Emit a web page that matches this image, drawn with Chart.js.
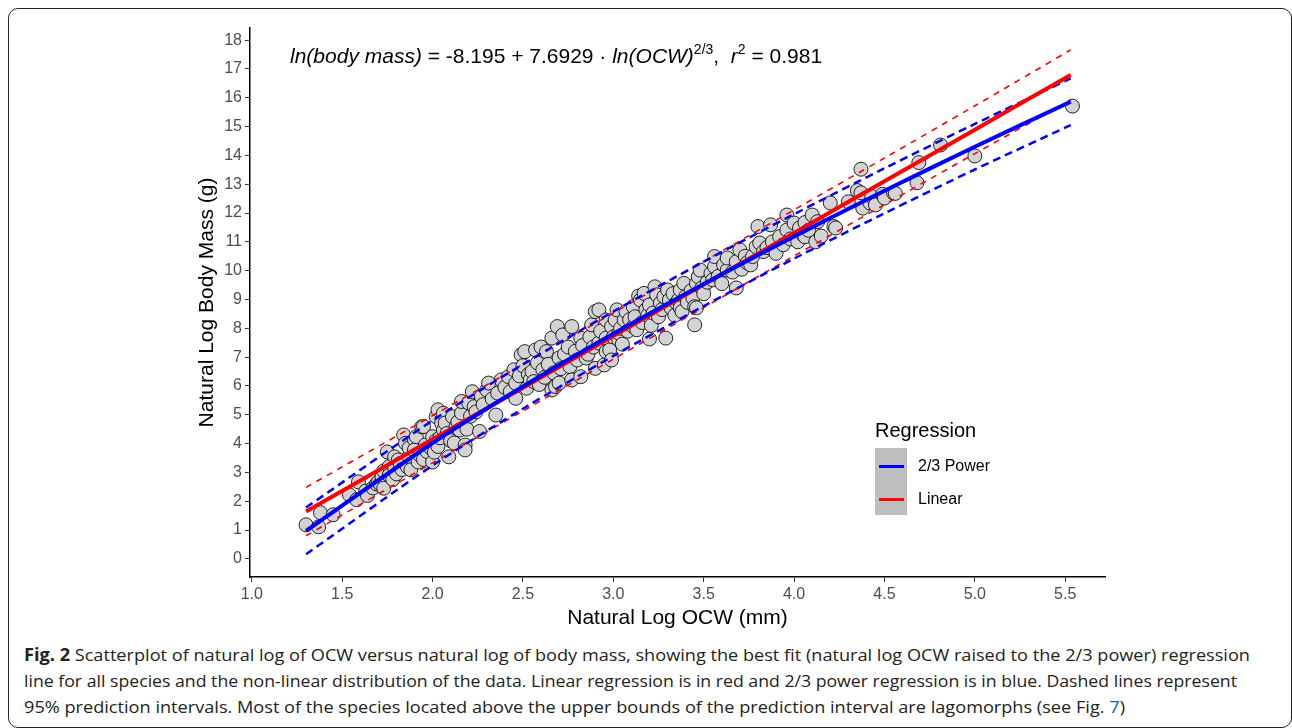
<!DOCTYPE html>
<html>
<head>
<meta charset="utf-8">
<script src="https://cdn.jsdelivr.net/npm/chart.js@4.4.1/dist/chart.umd.min.js"></script>
<style>
  body { margin: 0; background: #fff; }
  #wrap { position: relative; width: 1292px; height: 728px; overflow: hidden; font-family: "Liberation Sans", Arial, sans-serif; }
  #frame { position: absolute; left: 8px; top: 8px; width: 1284px; height: 720px; box-sizing: border-box;
           border: 1.5px solid #222; border-radius: 10px; }
  #plot { position: absolute; left: 0; top: 0; }
  #eq { position: absolute; left: 290px; top: 44px; font-size: 21px; color: #000; white-space: nowrap; }
  #eq i { font-style: italic; }
  #eq sup { font-size: 14px; vertical-align: 9px; line-height: 0; }
  #legend { position: absolute; left: 875px; top: 416px; color: #000; }
  #legend .ttl { font-size: 20px; line-height: 28px; }
  #legend .key { position: absolute; left: 0; top: 32px; width: 32px; height: 67px; background: #bebebe; }
  #legend .sw { position: absolute; left: 4px; width: 25px; height: 3px; }
  #legend .lab { position: absolute; left: 43px; font-size: 16px; white-space: nowrap; }
  .cap { position: absolute; left: 24px; font-family: "Open Sans", sans-serif; font-size: 17px; color: #222;
         white-space: nowrap; transform-origin: left center; }
  .cap b { font-weight: 700; }
  .cap a { color: #2255cc; text-decoration: none; }
</style>
</head>
<body>
<div id="wrap">
  <div id="frame"></div>
  <canvas id="plot" width="1292" height="640"></canvas>
  <div id="eq"><i>ln(body mass)</i> = -8.195 + 7.6929 · <i>ln(OCW)</i><sup>2/3</sup>,&nbsp; <i>r</i><sup>2</sup> = 0.981</div>
  <div id="legend">
    <div class="ttl">Regression</div>
    <div class="key">
      <div class="sw" style="top:17px;background:#0000ff"></div>
      <div class="sw" style="top:50px;background:#ff0000"></div>
    </div>
    <div class="lab" style="top:41px">2/3 Power</div>
    <div class="lab" style="top:74px">Linear</div>
  </div>
  <div class="cap" id="cap1" style="top:643px"><b>Fig. 2</b> Scatterplot of natural log of OCW versus natural log of body mass, showing the best fit (natural log OCW raised to the 2/3 power) regression</div>
  <div class="cap" id="cap2" style="top:669px">line for all species and the non-linear distribution of the data. Linear regression is in red and 2/3 power regression is in blue. Dashed lines represent</div>
  <div class="cap" id="cap3" style="top:695px">95% prediction intervals. Most of the species located above the upper bounds of the prediction interval are lagomorphs (see Fig. <a>7</a>)</div>
</div>
<script>
// axis ticks
const xTickValues = [1.0, 1.5, 2.0, 2.5, 3.0, 3.5, 4.0, 4.5, 5.0, 5.5];
const yTickValues = [0, 1, 2, 3, 4, 5, 6, 7, 8, 9, 10, 11, 12, 13, 14, 15, 16, 17, 18];

// species: ln(OCW) and ln(body mass)
const ocwLog = [
  1.30, 1.37, 1.38, 1.45, 1.54, 1.58, 1.59, 1.63, 1.64, 1.67, 1.69, 1.70, 1.71, 1.72, 1.73, 1.73, 1.75, 1.76, 1.76, 1.78,
  1.79, 1.79, 1.80, 1.81, 1.82, 1.83, 1.84, 1.85, 1.86, 1.87, 1.87, 1.88, 1.90, 1.90, 1.91, 1.92, 1.93, 1.94, 1.95, 1.95,
  1.96, 1.97, 1.99, 2.00, 2.00, 2.01, 2.02, 2.02, 2.03, 2.03, 2.04, 2.05, 2.06, 2.06, 2.07, 2.08, 2.09, 2.10, 2.11, 2.12,
  2.13, 2.14, 2.15, 2.16, 2.16, 2.18, 2.18, 2.19, 2.20, 2.21, 2.22, 2.23, 2.24, 2.26, 2.27, 2.28, 2.30, 2.31, 2.33, 2.35,
  2.36, 2.38, 2.40, 2.42, 2.43, 2.45, 2.46, 2.46, 2.48, 2.49, 2.50, 2.51, 2.52, 2.53, 2.54, 2.55, 2.56, 2.57, 2.58, 2.59,
  2.60, 2.61, 2.62, 2.63, 2.64, 2.66, 2.66, 2.67, 2.68, 2.69, 2.70, 2.70, 2.71, 2.72, 2.73, 2.75, 2.76, 2.77, 2.77, 2.79,
  2.80, 2.82, 2.82, 2.83, 2.85, 2.86, 2.87, 2.88, 2.89, 2.90, 2.90, 2.92, 2.92, 2.93, 2.95, 2.96, 2.96, 2.96, 2.98, 2.99,
  2.99, 3.00, 3.01, 3.02, 3.03, 3.03, 3.04, 3.05, 3.06, 3.07, 3.08, 3.09, 3.11, 3.11, 3.12, 3.13, 3.14, 3.15, 3.16, 3.17,
  3.18, 3.19, 3.20, 3.20, 3.21, 3.22, 3.23, 3.24, 3.25, 3.26, 3.27, 3.28, 3.29, 3.30, 3.31, 3.32, 3.33, 3.34, 3.35, 3.36,
  3.37, 3.37, 3.38, 3.39, 3.40, 3.41, 3.43, 3.44, 3.45, 3.45, 3.46, 3.46, 3.47, 3.48, 3.49, 3.50, 3.52, 3.54, 3.55, 3.56,
  3.56, 3.58, 3.60, 3.61, 3.63, 3.63, 3.66, 3.68, 3.68, 3.70, 3.71, 3.73, 3.74, 3.76, 3.77, 3.79, 3.80, 3.81, 3.83, 3.85,
  3.87, 3.88, 3.90, 3.92, 3.94, 3.96, 3.96, 3.98, 4.00, 4.02, 4.03, 4.05, 4.06, 4.06, 4.08, 4.10, 4.12, 4.13, 4.15, 4.20,
  4.22, 4.23, 4.30, 4.35, 4.37, 4.37, 4.38, 4.42, 4.43, 4.45, 4.49, 4.50, 4.55, 4.56, 4.68, 4.69, 4.81, 5.00, 5.54
];
const massLog = [
  1.18, 1.11, 1.60, 1.53, 2.22, 2.05, 2.67, 2.35, 2.20, 2.46, 2.60, 2.67, 2.60, 2.84, 2.45, 3.05, 3.71, 3.20, 2.90, 2.75,
  3.54, 3.15, 2.95, 3.43, 3.30, 3.10, 4.30, 4.01, 3.20, 3.55, 3.85, 3.09, 4.13, 3.78, 4.24, 3.36, 3.60, 4.58, 3.45, 4.59,
  3.95, 3.72, 3.85, 3.36, 4.24, 3.70, 4.10, 4.93, 3.90, 5.17, 4.20, 4.70, 4.47, 5.05, 4.71, 4.35, 3.54, 4.10, 4.93, 4.02,
  4.59, 4.75, 4.47, 5.06, 5.46, 3.95, 3.78, 4.50, 5.41, 4.95, 5.80, 5.28, 5.10, 4.42, 5.63, 5.35, 5.86, 6.10, 5.55, 4.99,
  5.75, 6.21, 5.95, 6.32, 5.80, 6.56, 6.09, 5.57, 6.35, 7.08, 6.70, 7.19, 5.92, 6.40, 6.21, 6.50, 6.15, 7.25, 6.80, 6.05,
  7.35, 6.56, 6.30, 7.19, 6.75, 7.66, 5.86, 6.45, 5.98, 8.06, 6.97, 6.10, 6.60, 7.77, 7.10, 7.35, 6.67, 8.06, 6.21, 7.20,
  6.90, 7.66, 6.32, 7.40, 6.97, 7.10, 7.70, 8.12, 7.35, 8.58, 6.61, 7.49, 8.64, 7.90, 6.73, 7.19, 7.66, 8.29, 7.25, 6.90,
  8.06, 7.70, 8.29, 8.64, 7.60, 7.83, 8.00, 7.45, 8.29, 8.58, 7.90, 8.30, 8.75, 8.06, 8.40, 7.95, 9.12, 8.98, 8.20, 9.21,
  8.64, 8.45, 8.81, 7.63, 8.10, 8.53, 9.44, 9.16, 8.40, 8.88, 8.65, 9.10, 7.66, 9.33, 8.98, 8.70, 9.20, 8.45, 8.88, 8.98,
  9.33, 8.71, 8.58, 9.56, 9.10, 8.90, 9.30, 9.05, 8.75, 8.12, 8.71, 9.56, 9.79, 10.02, 9.40, 9.20, 9.60, 9.91, 9.68, 10.14,
  10.49, 9.80, 9.55, 10.20, 10.02, 10.44, 9.95, 10.31, 9.40, 10.72, 10.05, 10.50, 10.27, 10.20, 10.49, 10.83, 11.53, 10.96, 10.66, 10.80,
  11.59, 11.00, 10.60, 11.18, 10.90, 11.41, 11.93, 11.10, 11.65, 11.00, 11.48, 11.24, 11.67, 11.18, 11.40, 11.93, 11.00, 11.70, 11.20, 12.35,
  11.53, 11.48, 12.39, 12.78, 12.70, 13.52, 12.17, 12.35, 12.57, 12.28, 12.65, 12.52, 12.70, 12.68, 13.05, 13.75, 14.36, 13.98, 15.71
];

// fitted lines and 95% prediction intervals
const fitX = [1.30, 2.0, 2.5, 3.0, 3.5, 4.0, 4.5, 5.0, 5.53];
const powerFit = [0.97, 4.02, 5.98, 7.81, 9.54, 11.19, 12.77, 14.30, 15.86];
const powerUpper = [1.78, 4.80, 6.75, 8.58, 10.31, 11.96, 13.55, 15.09, 16.67];
const powerLower = [0.16, 3.24, 5.21, 7.04, 8.77, 10.42, 11.99, 13.51, 15.05];
const linearFit = [1.64, 4.15, 5.94, 7.73, 9.52, 11.31, 13.10, 14.89, 16.79];
const linearUpper = [2.48, 4.97, 6.75, 8.53, 10.32, 12.11, 13.91, 15.72, 17.66];
const linearLower = [0.80, 3.33, 5.13, 6.93, 8.72, 10.51, 12.29, 14.06, 15.92];

const pts = (xs, ys) => xs.map((x, i) => ({ x, y: ys[i] }));

function lineSet(label, ys, color, width, dash) {
    return {
        type: "line",
        label,
        data: pts(fitX, ys),
        borderColor: color,
        borderWidth: width,
        borderDash: dash || [],
        pointRadius: 0,
        fill: false,
        tension: 0.3,
        showLine: true,
    };
}

const tickFont = { family: "'Liberation Sans', Arial, sans-serif", size: 16 };
const titleFont = { family: "'Liberation Sans', Arial, sans-serif", size: 21 };

new Chart(document.getElementById("plot").getContext("2d"), {
    type: "scatter",
    data: {
        datasets: [
            lineSet("2/3 Power", powerFit, "#0000ff", 4),
            lineSet("Linear", linearFit, "#ff0000", 4),
            lineSet("Power upper", powerUpper, "#0000ff", 2.5, [8, 5]),
            lineSet("Power lower", powerLower, "#0000ff", 2.5, [8, 5]),
            lineSet("Linear upper", linearUpper, "#ff0000", 1.6, [6, 6]),
            lineSet("Linear lower", linearLower, "#ff0000", 1.6, [6, 6]),
            {
                label: "Species",
                data: pts(ocwLog, massLog),
                backgroundColor: "#d3d3d3",
                borderColor: "rgba(0,0,0,0.85)",
                borderWidth: 1,
                pointRadius: 7,
            },
        ],
    },
    options: {
        responsive: false,
        animation: false,
        events: [],
        layout: { padding: { top: 28, right: 187, left: 0, bottom: 0 } },
        plugins: { legend: { display: false }, tooltip: { enabled: false } },
        scales: {
            x: {
                type: "linear",
                min: 0.99,
                max: 5.72,
                afterFit: s => { s.height = 63; },
                afterBuildTicks: s => { s.ticks = xTickValues.map(v => ({ value: v })); },
                grid: { drawOnChartArea: false, drawTicks: true, tickLength: 5, color: "#333" },
                border: { display: true, color: "#000", width: 1.5 },
                ticks: { color: "#4d4d4d", font: tickFont, padding: 3, maxRotation: 0, callback: v => Number(v).toFixed(1) },
                title: { display: true, text: "Natural Log OCW (mm)", color: "#000", font: titleFont, padding: { top: 0, bottom: 9 } },
            },
            y: {
                type: "linear",
                min: -0.63,
                max: 18.42,
                afterFit: s => { s.width = 250; },
                afterBuildTicks: s => { s.ticks = yTickValues.map(v => ({ value: v })); },
                grid: { drawOnChartArea: false, drawTicks: true, tickLength: 5, color: "#333" },
                border: { display: true, color: "#000", width: 1.5 },
                ticks: { color: "#4d4d4d", font: tickFont, padding: 3 },
                title: { display: true, text: "Natural Log Body Mass (g)", color: "#000", font: titleFont, padding: { top: 195, bottom: 0 } },
            },
        },
    },
});

// stretch caption lines to the widths they have in the figure
[["cap1", 1226], ["cap2", 1213], ["cap3", 1101]].forEach(([id, w]) => {
    const el = document.getElementById(id);
    const cur = el.getBoundingClientRect().width;
    el.style.transform = `scaleX(${w / cur})`;
});
</script>
</body>
</html>
